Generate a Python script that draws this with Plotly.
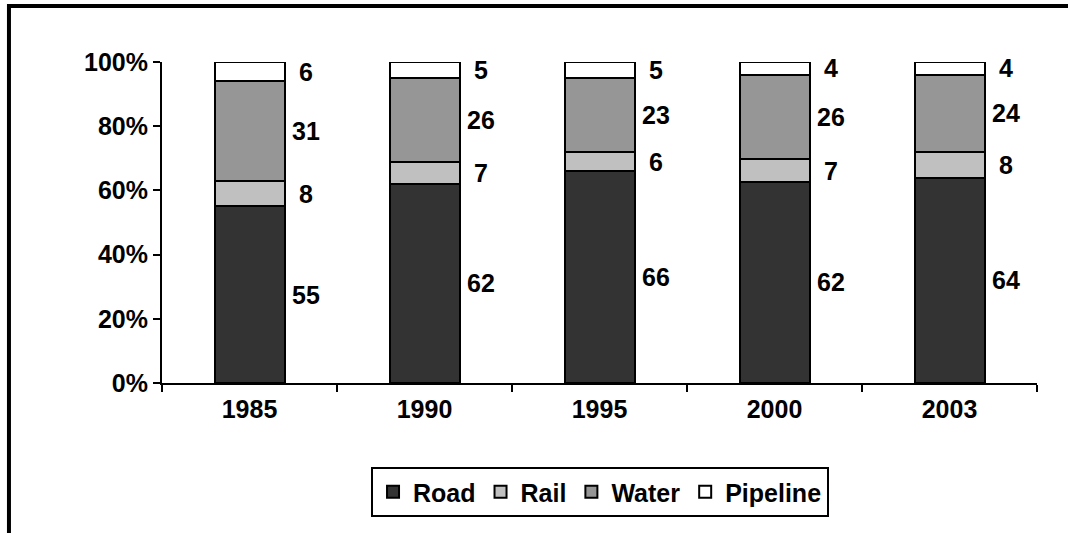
import plotly.graph_objects as go

years = ["1985", "1990", "1995", "2000", "2003"]
road = [55, 62, 66, 62, 64]
rail = [8, 7, 6, 7, 8]
water = [31, 26, 23, 26, 24]
pipeline = [6, 5, 5, 4, 4]
series_names = ["Road", "Rail", "Water", "Pipeline"]
series_values = [road, rail, water, pipeline]
colors = ["#333333", "#c0c0c0", "#969696", "#ffffff"]
y_ticks = [0, 20, 40, 60, 80, 100]
y_tick_labels = ["0%", "20%", "40%", "60%", "80%", "100%"]

FONT = dict(family="Liberation Sans, Arial, sans-serif", size=25, color="black", weight="bold")

fig = go.Figure()
for name, vals, col in zip(series_names, series_values, colors):
    fig.add_trace(go.Bar(
        x=years, y=vals, name=name,
        marker=dict(color=col, line=dict(color="black", width=2)),
        width=0.4,
    ))

# data labels at middle of each segment, to the right of the bar
for i, yr in enumerate(years):
    total = sum(s[i] for s in series_values)
    cum = 0
    for s in series_values:
        v = s[i]
        mid = (cum + v / 2) / total * 100
        cum += v
        fig.add_annotation(x=i, y=mid, text=str(v), showarrow=False,
                           xanchor="center", yanchor="middle", xshift=56,
                           font=FONT)

# chart frame (top and left edges visible)
fig.add_shape(type="path", xref="paper", yref="paper",
              path="M -0.1749 -0.6 L -0.1749 1.1745 L 1.1 1.1745",
              line=dict(color="black", width=4))

fig.update_layout(
    barmode="stack",
    barnorm="percent",
    width=1068, height=533,
    margin=dict(l=162, r=31, t=62, b=150),
    paper_bgcolor="white", plot_bgcolor="white",
    font=FONT,
    showlegend=True,
    legend=dict(orientation="h", x=0.5006, xanchor="center", y=-0.262, yanchor="top",
                bordercolor="black", borderwidth=2, font=dict(size=25),
                traceorder="normal", itemwidth=30),
)
fig.update_xaxes(type="category", categoryarray=years, categoryorder="array",
                 range=[-0.5, len(years) - 0.5],
                 showline=True, linecolor="black", linewidth=2, ticks="outside",
                 tickson="boundaries", ticklen=7, tickwidth=2, tickcolor="black",
                 ticklabelstandoff=3,
                 showgrid=False, tickfont=dict(size=25))
fig.update_yaxes(range=[0, 100], tickvals=y_ticks, ticktext=y_tick_labels,
                 showline=True, linecolor="black", linewidth=2, ticks="outside",
                 ticklen=7, tickwidth=2, tickcolor="black", showgrid=False,
                 zeroline=False, tickfont=dict(size=25))

fig.write_html("out.html", config={"displayModeBar": False},
               post_script="document.body.style.margin='0';")
